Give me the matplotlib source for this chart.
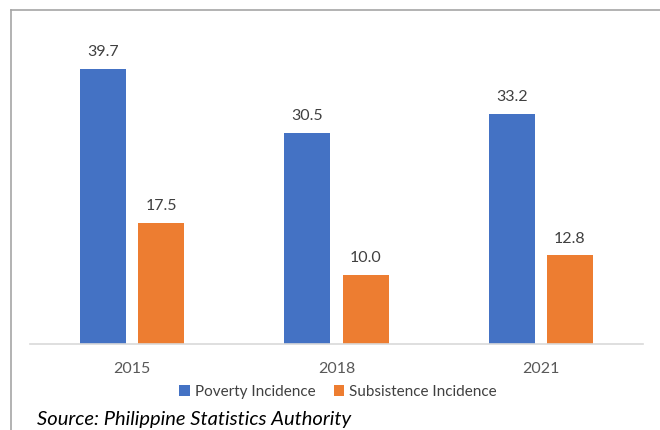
import matplotlib
matplotlib.use('Agg')
import matplotlib.pyplot as plt
import numpy as np
from matplotlib.lines import Line2D

years = ['2015', '2018', '2021']
poverty = [39.7, 30.5, 33.2]
subsistence = [17.5, 10.0, 12.8]

BLUE = '#4472C4'
ORANGE = '#ED7D31'

plt.rcParams['font.family'] = ['Lato', 'DejaVu Sans']

fig = plt.figure(figsize=(6.6, 4.3), dpi=100)
ax = fig.add_axes([30 / 660, 86 / 430, 613 / 660, 324 / 430])

x = np.arange(len(years))
w = 0.225
off = 0.142
b1 = ax.bar(x - off, poverty, w, color=BLUE, label='Poverty Incidence')
b2 = ax.bar(x + off, subsistence, w, color=ORANGE, label='Subsistence Incidence')

for bars in (b1, b2):
    ax.bar_label(bars, labels=[f'{v:.1f}' for v in bars.datavalues],
                 padding=7, fontsize=11.5, color='#404040')

ax.set_xlim(-0.5, 2.5)
ax.set_ylim(0, 46.75)
ax.set_xticks(x)
ax.set_xticklabels(years, fontsize=11.5, color='#595959')
ax.tick_params(axis='x', length=0, pad=13)
ax.set_yticks([])
for s in ['top', 'right', 'left']:
    ax.spines[s].set_visible(False)
ax.spines['bottom'].set_color('#D9D9D9')
ax.spines['bottom'].set_linewidth(1.2)

fig.legend(handles=[b1, b2], loc='center', bbox_to_anchor=(338 / 660, 1 - 392 / 430),
           ncol=2, frameon=False, fontsize=11, handlelength=0.7, handleheight=0.7,
           handletextpad=0.3, columnspacing=1.2, labelcolor='#404040')

fig.text(37 / 660, 1 - 420 / 430, 'Source: Philippine Statistics Authority',
         fontsize=14.5, style='italic', color='black', va='center', ha='left')

# outer frame (only left and top edges visible)
fig.add_artist(Line2D([11 / 660, 11 / 660], [0, 1 - 10 / 430],
                      transform=fig.transFigure, color='#A6A6A6', lw=1.2))
fig.add_artist(Line2D([11 / 660, 1], [1 - 10 / 430, 1 - 10 / 430],
                      transform=fig.transFigure, color='#A6A6A6', lw=1.2))

fig.savefig('out.png', dpi=100)
